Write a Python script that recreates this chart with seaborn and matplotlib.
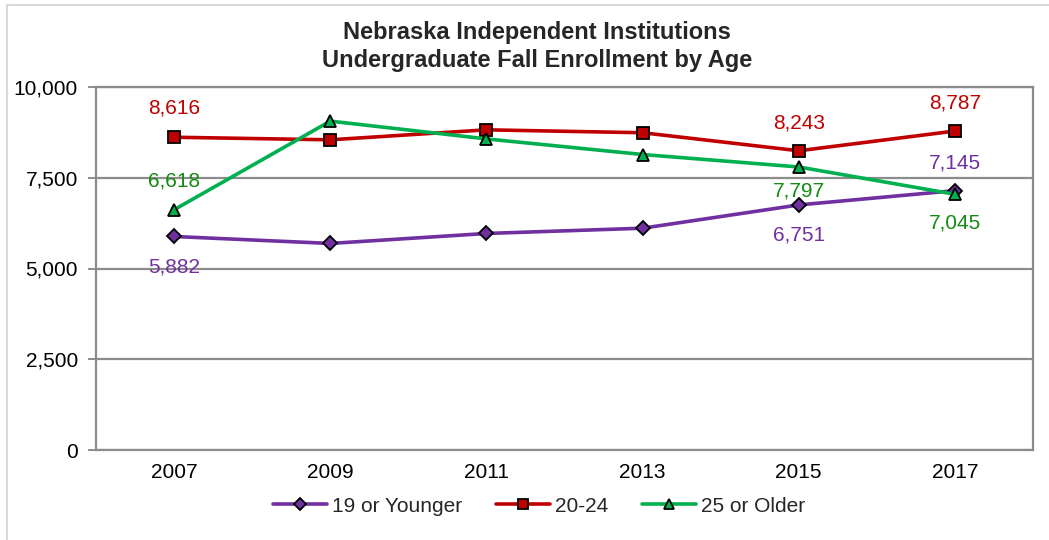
import matplotlib
matplotlib.use("Agg")
import matplotlib.pyplot as plt
import seaborn as sns
import pandas as pd
from matplotlib.lines import Line2D

# Fall enrollment by age group
years = ["2007", "2009", "2011", "2013", "2015", "2017"]
age_groups = ["19 or Younger", "20-24", "25 or Older"]
younger = [5882, 5690, 5965, 6110, 6751, 7145]
mid = [8616, 8545, 8820, 8740, 8243, 8787]
older = [6618, 9060, 8570, 8140, 7797, 7045]

# Years that carry a value label
labeled_years = ["2007", "2015", "2017"]

series = dict(zip(age_groups, [younger, mid, older]))
df = pd.DataFrame(
    [(y, g, v) for g, vals in series.items() for y, v in zip(years, vals)],
    columns=["Year", "Age", "Enrollment"],
)

line_colors = {"19 or Younger": "#7030A0", "20-24": "#C00000", "25 or Older": "#00B050"}
label_colors = {"19 or Younger": "#7030A0", "20-24": "#C00000", "25 or Older": "#138A13"}
markers = {"19 or Younger": "D", "20-24": "s", "25 or Older": "^"}
msizes = {"19 or Younger": 7.0, "20-24": 9.0, "25 or Older": 8.5}

sns.set_theme(style="white")
plt.rcParams["font.family"] = ["Liberation Sans", "DejaVu Sans"]

fig = plt.figure(figsize=(10.49, 5.40), dpi=100)
ax = fig.add_axes([96 / 1049, 90 / 540, (1033 - 96) / 1049, (450 - 87) / 540])

for g in age_groups:
    sns.lineplot(
        data=df[df["Age"] == g], x="Year", y="Enrollment", ax=ax,
        color=line_colors[g], marker=markers[g], markersize=msizes[g],
        markeredgecolor="black", markeredgewidth=1.3, linewidth=2.6,
        legend=False, label=g, zorder=3, sort=False,
    )

ax.set_xlim(-0.5, 5.5)
ax.set_ylim(0, 10000)
ax.set_yticks([0, 2500, 5000, 7500, 10000])
ax.set_yticklabels([f"{v:,}" for v in [0, 2500, 5000, 7500, 10000]], fontsize=15)
ax.set_xticks(range(len(years)))
ax.set_xticklabels(years, fontsize=15)
ax.set_xlabel("")
ax.set_ylabel("")
ax.yaxis.grid(True, color="#8c8c8c", linewidth=1.6)
ax.set_axisbelow(True)
for s in ax.spines.values():
    s.set_color("#8c8c8c")
    s.set_linewidth(1.6)
ax.tick_params(axis="y", which="major", length=6, width=1.4, color="#8c8c8c",
               left=True, pad=7, labelcolor="black")
ax.tick_params(axis="x", length=0, pad=9, labelcolor="black")

# Value labels: offset in points (positive = above the point)
placement = {
    ("19 or Younger", "2007"): -22, ("20-24", "2007"): 21, ("25 or Older", "2007"): 21,
    ("19 or Younger", "2015"): -22, ("20-24", "2015"): 20, ("25 or Older", "2015"): -17,
    ("19 or Younger", "2017"): 20, ("20-24", "2017"): 20, ("25 or Older", "2017"): -21,
}
for g in age_groups:
    for y in labeled_years:
        i = years.index(y)
        v = series[g][i]
        ax.annotate(f"{v:,}", xy=(i, v), xytext=(0, placement[(g, y)]),
                    textcoords="offset points", ha="center", va="center",
                    fontsize=15, color=label_colors[g])

handles = [
    Line2D([], [], color=line_colors[g], marker=markers[g], markersize=msizes[g] * 0.85,
           markeredgecolor="black", markeredgewidth=1.3, linewidth=2.6)
    for g in age_groups
]
fig.legend(handles, age_groups, loc="center", bbox_to_anchor=(539 / 1049, 1 - 506 / 540),
           ncol=3, frameon=False, fontsize=15, handlelength=2.6, handletextpad=0.25,
           columnspacing=1.6)

fig.text(537 / 1049, 1 - 32 / 540, "Nebraska Independent Institutions", ha="center",
         va="center", fontsize=17, fontweight="bold")
fig.text(537 / 1049, 1 - 60 / 540, "Undergraduate Fall Enrollment by Age", ha="center",
         va="center", fontsize=17, fontweight="bold")

# Chart-area frame
fig.add_artist(Line2D([7 / 1049, 7 / 1049], [0, 1 - 5 / 540], color="#d9d9d9", linewidth=1.5,
                      transform=fig.transFigure))
fig.add_artist(Line2D([7 / 1049, 1], [1 - 5 / 540, 1 - 5 / 540], color="#d9d9d9",
                      linewidth=1.5, transform=fig.transFigure))

fig.savefig("out.png", dpi=100, facecolor="white")
